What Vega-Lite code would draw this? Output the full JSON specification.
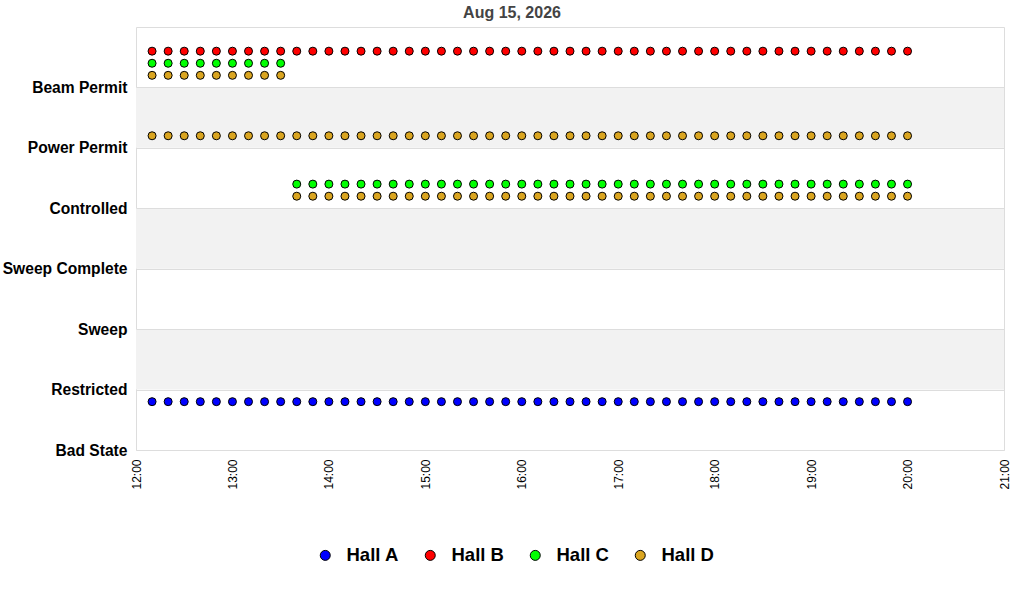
{
  "$schema": "https://vega.github.io/schema/vega-lite/v6.json",
  "width": 868,
  "height": 423,
  "autosize": "none",
  "padding": {"left": 136, "top": 27, "right": 20, "bottom": 150},
  "title": {"text": "Aug 15, 2026", "fontSize": 16, "fontWeight": "bold", "color": "#444444", "font": "Liberation Sans", "anchor": "middle", "dx": -58, "offset": 6},
  "config": {"view": {"stroke": "#dddddd"}, "font": "Liberation Sans"},
  "layer": [
    {
      "data": {"values": [{"lo": 1, "hi": 2}, {"lo": 3, "hi": 4}, {"lo": 5, "hi": 6}]},
      "mark": {"type": "rect", "color": "#f2f2f2"},
      "encoding": {
        "y": {"field": "lo", "type": "quantitative", "scale": {"domain": [0, 7], "nice": false},
          "axis": {"title": null, "values": [0, 1, 2, 3, 4, 5, 6], "labelExpr": "['Bad State','Restricted','Sweep','Sweep Complete','Controlled','Power Permit','Beam Permit'][datum.value]",
            "labelFontSize": 15.6, "labelFontWeight": "bold", "labelColor": "black", "labelPadding": 9, "ticks": false, "domain": false, "gridColor": "#dddddd", "zindex": 1}},
        "y2": {"field": "hi"}
      }
    },
    {
      "data": {"values": [
        {"t":"2026-08-15T12:10","h":"Hall A","y":0.8},{"t":"2026-08-15T12:20","h":"Hall A","y":0.8},{"t":"2026-08-15T12:30","h":"Hall A","y":0.8},{"t":"2026-08-15T12:40","h":"Hall A","y":0.8},{"t":"2026-08-15T12:50","h":"Hall A","y":0.8},{"t":"2026-08-15T13:00","h":"Hall A","y":0.8},
        {"t":"2026-08-15T13:10","h":"Hall A","y":0.8},{"t":"2026-08-15T13:20","h":"Hall A","y":0.8},{"t":"2026-08-15T13:30","h":"Hall A","y":0.8},{"t":"2026-08-15T13:40","h":"Hall A","y":0.8},{"t":"2026-08-15T13:50","h":"Hall A","y":0.8},{"t":"2026-08-15T14:00","h":"Hall A","y":0.8},
        {"t":"2026-08-15T14:10","h":"Hall A","y":0.8},{"t":"2026-08-15T14:20","h":"Hall A","y":0.8},{"t":"2026-08-15T14:30","h":"Hall A","y":0.8},{"t":"2026-08-15T14:40","h":"Hall A","y":0.8},{"t":"2026-08-15T14:50","h":"Hall A","y":0.8},{"t":"2026-08-15T15:00","h":"Hall A","y":0.8},
        {"t":"2026-08-15T15:10","h":"Hall A","y":0.8},{"t":"2026-08-15T15:20","h":"Hall A","y":0.8},{"t":"2026-08-15T15:30","h":"Hall A","y":0.8},{"t":"2026-08-15T15:40","h":"Hall A","y":0.8},{"t":"2026-08-15T15:50","h":"Hall A","y":0.8},{"t":"2026-08-15T16:00","h":"Hall A","y":0.8},
        {"t":"2026-08-15T16:10","h":"Hall A","y":0.8},{"t":"2026-08-15T16:20","h":"Hall A","y":0.8},{"t":"2026-08-15T16:30","h":"Hall A","y":0.8},{"t":"2026-08-15T16:40","h":"Hall A","y":0.8},{"t":"2026-08-15T16:50","h":"Hall A","y":0.8},{"t":"2026-08-15T17:00","h":"Hall A","y":0.8},
        {"t":"2026-08-15T17:10","h":"Hall A","y":0.8},{"t":"2026-08-15T17:20","h":"Hall A","y":0.8},{"t":"2026-08-15T17:30","h":"Hall A","y":0.8},{"t":"2026-08-15T17:40","h":"Hall A","y":0.8},{"t":"2026-08-15T17:50","h":"Hall A","y":0.8},{"t":"2026-08-15T18:00","h":"Hall A","y":0.8},
        {"t":"2026-08-15T18:10","h":"Hall A","y":0.8},{"t":"2026-08-15T18:20","h":"Hall A","y":0.8},{"t":"2026-08-15T18:30","h":"Hall A","y":0.8},{"t":"2026-08-15T18:40","h":"Hall A","y":0.8},{"t":"2026-08-15T18:50","h":"Hall A","y":0.8},{"t":"2026-08-15T19:00","h":"Hall A","y":0.8},
        {"t":"2026-08-15T19:10","h":"Hall A","y":0.8},{"t":"2026-08-15T19:20","h":"Hall A","y":0.8},{"t":"2026-08-15T19:30","h":"Hall A","y":0.8},{"t":"2026-08-15T19:40","h":"Hall A","y":0.8},{"t":"2026-08-15T19:50","h":"Hall A","y":0.8},{"t":"2026-08-15T20:00","h":"Hall A","y":0.8},

        {"t":"2026-08-15T12:10","h":"Hall B","y":6.6},{"t":"2026-08-15T12:20","h":"Hall B","y":6.6},{"t":"2026-08-15T12:30","h":"Hall B","y":6.6},{"t":"2026-08-15T12:40","h":"Hall B","y":6.6},{"t":"2026-08-15T12:50","h":"Hall B","y":6.6},{"t":"2026-08-15T13:00","h":"Hall B","y":6.6},
        {"t":"2026-08-15T13:10","h":"Hall B","y":6.6},{"t":"2026-08-15T13:20","h":"Hall B","y":6.6},{"t":"2026-08-15T13:30","h":"Hall B","y":6.6},{"t":"2026-08-15T13:40","h":"Hall B","y":6.6},{"t":"2026-08-15T13:50","h":"Hall B","y":6.6},{"t":"2026-08-15T14:00","h":"Hall B","y":6.6},
        {"t":"2026-08-15T14:10","h":"Hall B","y":6.6},{"t":"2026-08-15T14:20","h":"Hall B","y":6.6},{"t":"2026-08-15T14:30","h":"Hall B","y":6.6},{"t":"2026-08-15T14:40","h":"Hall B","y":6.6},{"t":"2026-08-15T14:50","h":"Hall B","y":6.6},{"t":"2026-08-15T15:00","h":"Hall B","y":6.6},
        {"t":"2026-08-15T15:10","h":"Hall B","y":6.6},{"t":"2026-08-15T15:20","h":"Hall B","y":6.6},{"t":"2026-08-15T15:30","h":"Hall B","y":6.6},{"t":"2026-08-15T15:40","h":"Hall B","y":6.6},{"t":"2026-08-15T15:50","h":"Hall B","y":6.6},{"t":"2026-08-15T16:00","h":"Hall B","y":6.6},
        {"t":"2026-08-15T16:10","h":"Hall B","y":6.6},{"t":"2026-08-15T16:20","h":"Hall B","y":6.6},{"t":"2026-08-15T16:30","h":"Hall B","y":6.6},{"t":"2026-08-15T16:40","h":"Hall B","y":6.6},{"t":"2026-08-15T16:50","h":"Hall B","y":6.6},{"t":"2026-08-15T17:00","h":"Hall B","y":6.6},
        {"t":"2026-08-15T17:10","h":"Hall B","y":6.6},{"t":"2026-08-15T17:20","h":"Hall B","y":6.6},{"t":"2026-08-15T17:30","h":"Hall B","y":6.6},{"t":"2026-08-15T17:40","h":"Hall B","y":6.6},{"t":"2026-08-15T17:50","h":"Hall B","y":6.6},{"t":"2026-08-15T18:00","h":"Hall B","y":6.6},
        {"t":"2026-08-15T18:10","h":"Hall B","y":6.6},{"t":"2026-08-15T18:20","h":"Hall B","y":6.6},{"t":"2026-08-15T18:30","h":"Hall B","y":6.6},{"t":"2026-08-15T18:40","h":"Hall B","y":6.6},{"t":"2026-08-15T18:50","h":"Hall B","y":6.6},{"t":"2026-08-15T19:00","h":"Hall B","y":6.6},
        {"t":"2026-08-15T19:10","h":"Hall B","y":6.6},{"t":"2026-08-15T19:20","h":"Hall B","y":6.6},{"t":"2026-08-15T19:30","h":"Hall B","y":6.6},{"t":"2026-08-15T19:40","h":"Hall B","y":6.6},{"t":"2026-08-15T19:50","h":"Hall B","y":6.6},{"t":"2026-08-15T20:00","h":"Hall B","y":6.6},

        {"t":"2026-08-15T12:10","h":"Hall C","y":6.4},{"t":"2026-08-15T12:20","h":"Hall C","y":6.4},{"t":"2026-08-15T12:30","h":"Hall C","y":6.4},{"t":"2026-08-15T12:40","h":"Hall C","y":6.4},{"t":"2026-08-15T12:50","h":"Hall C","y":6.4},{"t":"2026-08-15T13:00","h":"Hall C","y":6.4},
        {"t":"2026-08-15T13:10","h":"Hall C","y":6.4},{"t":"2026-08-15T13:20","h":"Hall C","y":6.4},{"t":"2026-08-15T13:30","h":"Hall C","y":6.4},{"t":"2026-08-15T13:40","h":"Hall C","y":4.4},{"t":"2026-08-15T13:50","h":"Hall C","y":4.4},{"t":"2026-08-15T14:00","h":"Hall C","y":4.4},
        {"t":"2026-08-15T14:10","h":"Hall C","y":4.4},{"t":"2026-08-15T14:20","h":"Hall C","y":4.4},{"t":"2026-08-15T14:30","h":"Hall C","y":4.4},{"t":"2026-08-15T14:40","h":"Hall C","y":4.4},{"t":"2026-08-15T14:50","h":"Hall C","y":4.4},{"t":"2026-08-15T15:00","h":"Hall C","y":4.4},
        {"t":"2026-08-15T15:10","h":"Hall C","y":4.4},{"t":"2026-08-15T15:20","h":"Hall C","y":4.4},{"t":"2026-08-15T15:30","h":"Hall C","y":4.4},{"t":"2026-08-15T15:40","h":"Hall C","y":4.4},{"t":"2026-08-15T15:50","h":"Hall C","y":4.4},{"t":"2026-08-15T16:00","h":"Hall C","y":4.4},
        {"t":"2026-08-15T16:10","h":"Hall C","y":4.4},{"t":"2026-08-15T16:20","h":"Hall C","y":4.4},{"t":"2026-08-15T16:30","h":"Hall C","y":4.4},{"t":"2026-08-15T16:40","h":"Hall C","y":4.4},{"t":"2026-08-15T16:50","h":"Hall C","y":4.4},{"t":"2026-08-15T17:00","h":"Hall C","y":4.4},
        {"t":"2026-08-15T17:10","h":"Hall C","y":4.4},{"t":"2026-08-15T17:20","h":"Hall C","y":4.4},{"t":"2026-08-15T17:30","h":"Hall C","y":4.4},{"t":"2026-08-15T17:40","h":"Hall C","y":4.4},{"t":"2026-08-15T17:50","h":"Hall C","y":4.4},{"t":"2026-08-15T18:00","h":"Hall C","y":4.4},
        {"t":"2026-08-15T18:10","h":"Hall C","y":4.4},{"t":"2026-08-15T18:20","h":"Hall C","y":4.4},{"t":"2026-08-15T18:30","h":"Hall C","y":4.4},{"t":"2026-08-15T18:40","h":"Hall C","y":4.4},{"t":"2026-08-15T18:50","h":"Hall C","y":4.4},{"t":"2026-08-15T19:00","h":"Hall C","y":4.4},
        {"t":"2026-08-15T19:10","h":"Hall C","y":4.4},{"t":"2026-08-15T19:20","h":"Hall C","y":4.4},{"t":"2026-08-15T19:30","h":"Hall C","y":4.4},{"t":"2026-08-15T19:40","h":"Hall C","y":4.4},{"t":"2026-08-15T19:50","h":"Hall C","y":4.4},{"t":"2026-08-15T20:00","h":"Hall C","y":4.4},

        {"t":"2026-08-15T12:10","h":"Hall D","y":6.2},{"t":"2026-08-15T12:20","h":"Hall D","y":6.2},{"t":"2026-08-15T12:30","h":"Hall D","y":6.2},{"t":"2026-08-15T12:40","h":"Hall D","y":6.2},{"t":"2026-08-15T12:50","h":"Hall D","y":6.2},{"t":"2026-08-15T13:00","h":"Hall D","y":6.2},
        {"t":"2026-08-15T13:10","h":"Hall D","y":6.2},{"t":"2026-08-15T13:20","h":"Hall D","y":6.2},{"t":"2026-08-15T13:30","h":"Hall D","y":6.2},

        {"t":"2026-08-15T12:10","h":"Hall D","y":5.2},{"t":"2026-08-15T12:20","h":"Hall D","y":5.2},{"t":"2026-08-15T12:30","h":"Hall D","y":5.2},{"t":"2026-08-15T12:40","h":"Hall D","y":5.2},{"t":"2026-08-15T12:50","h":"Hall D","y":5.2},{"t":"2026-08-15T13:00","h":"Hall D","y":5.2},
        {"t":"2026-08-15T13:10","h":"Hall D","y":5.2},{"t":"2026-08-15T13:20","h":"Hall D","y":5.2},{"t":"2026-08-15T13:30","h":"Hall D","y":5.2},{"t":"2026-08-15T13:40","h":"Hall D","y":5.2},{"t":"2026-08-15T13:50","h":"Hall D","y":5.2},{"t":"2026-08-15T14:00","h":"Hall D","y":5.2},
        {"t":"2026-08-15T14:10","h":"Hall D","y":5.2},{"t":"2026-08-15T14:20","h":"Hall D","y":5.2},{"t":"2026-08-15T14:30","h":"Hall D","y":5.2},{"t":"2026-08-15T14:40","h":"Hall D","y":5.2},{"t":"2026-08-15T14:50","h":"Hall D","y":5.2},{"t":"2026-08-15T15:00","h":"Hall D","y":5.2},
        {"t":"2026-08-15T15:10","h":"Hall D","y":5.2},{"t":"2026-08-15T15:20","h":"Hall D","y":5.2},{"t":"2026-08-15T15:30","h":"Hall D","y":5.2},{"t":"2026-08-15T15:40","h":"Hall D","y":5.2},{"t":"2026-08-15T15:50","h":"Hall D","y":5.2},{"t":"2026-08-15T16:00","h":"Hall D","y":5.2},
        {"t":"2026-08-15T16:10","h":"Hall D","y":5.2},{"t":"2026-08-15T16:20","h":"Hall D","y":5.2},{"t":"2026-08-15T16:30","h":"Hall D","y":5.2},{"t":"2026-08-15T16:40","h":"Hall D","y":5.2},{"t":"2026-08-15T16:50","h":"Hall D","y":5.2},{"t":"2026-08-15T17:00","h":"Hall D","y":5.2},
        {"t":"2026-08-15T17:10","h":"Hall D","y":5.2},{"t":"2026-08-15T17:20","h":"Hall D","y":5.2},{"t":"2026-08-15T17:30","h":"Hall D","y":5.2},{"t":"2026-08-15T17:40","h":"Hall D","y":5.2},{"t":"2026-08-15T17:50","h":"Hall D","y":5.2},{"t":"2026-08-15T18:00","h":"Hall D","y":5.2},
        {"t":"2026-08-15T18:10","h":"Hall D","y":5.2},{"t":"2026-08-15T18:20","h":"Hall D","y":5.2},{"t":"2026-08-15T18:30","h":"Hall D","y":5.2},{"t":"2026-08-15T18:40","h":"Hall D","y":5.2},{"t":"2026-08-15T18:50","h":"Hall D","y":5.2},{"t":"2026-08-15T19:00","h":"Hall D","y":5.2},
        {"t":"2026-08-15T19:10","h":"Hall D","y":5.2},{"t":"2026-08-15T19:20","h":"Hall D","y":5.2},{"t":"2026-08-15T19:30","h":"Hall D","y":5.2},{"t":"2026-08-15T19:40","h":"Hall D","y":5.2},{"t":"2026-08-15T19:50","h":"Hall D","y":5.2},{"t":"2026-08-15T20:00","h":"Hall D","y":5.2},

        {"t":"2026-08-15T13:40","h":"Hall D","y":4.2},{"t":"2026-08-15T13:50","h":"Hall D","y":4.2},{"t":"2026-08-15T14:00","h":"Hall D","y":4.2},
        {"t":"2026-08-15T14:10","h":"Hall D","y":4.2},{"t":"2026-08-15T14:20","h":"Hall D","y":4.2},{"t":"2026-08-15T14:30","h":"Hall D","y":4.2},{"t":"2026-08-15T14:40","h":"Hall D","y":4.2},{"t":"2026-08-15T14:50","h":"Hall D","y":4.2},{"t":"2026-08-15T15:00","h":"Hall D","y":4.2},
        {"t":"2026-08-15T15:10","h":"Hall D","y":4.2},{"t":"2026-08-15T15:20","h":"Hall D","y":4.2},{"t":"2026-08-15T15:30","h":"Hall D","y":4.2},{"t":"2026-08-15T15:40","h":"Hall D","y":4.2},{"t":"2026-08-15T15:50","h":"Hall D","y":4.2},{"t":"2026-08-15T16:00","h":"Hall D","y":4.2},
        {"t":"2026-08-15T16:10","h":"Hall D","y":4.2},{"t":"2026-08-15T16:20","h":"Hall D","y":4.2},{"t":"2026-08-15T16:30","h":"Hall D","y":4.2},{"t":"2026-08-15T16:40","h":"Hall D","y":4.2},{"t":"2026-08-15T16:50","h":"Hall D","y":4.2},{"t":"2026-08-15T17:00","h":"Hall D","y":4.2},
        {"t":"2026-08-15T17:10","h":"Hall D","y":4.2},{"t":"2026-08-15T17:20","h":"Hall D","y":4.2},{"t":"2026-08-15T17:30","h":"Hall D","y":4.2},{"t":"2026-08-15T17:40","h":"Hall D","y":4.2},{"t":"2026-08-15T17:50","h":"Hall D","y":4.2},{"t":"2026-08-15T18:00","h":"Hall D","y":4.2},
        {"t":"2026-08-15T18:10","h":"Hall D","y":4.2},{"t":"2026-08-15T18:20","h":"Hall D","y":4.2},{"t":"2026-08-15T18:30","h":"Hall D","y":4.2},{"t":"2026-08-15T18:40","h":"Hall D","y":4.2},{"t":"2026-08-15T18:50","h":"Hall D","y":4.2},{"t":"2026-08-15T19:00","h":"Hall D","y":4.2},
        {"t":"2026-08-15T19:10","h":"Hall D","y":4.2},{"t":"2026-08-15T19:20","h":"Hall D","y":4.2},{"t":"2026-08-15T19:30","h":"Hall D","y":4.2},{"t":"2026-08-15T19:40","h":"Hall D","y":4.2},{"t":"2026-08-15T19:50","h":"Hall D","y":4.2},{"t":"2026-08-15T20:00","h":"Hall D","y":4.2}
      ]},
      "mark": {"type": "point", "shape": "circle", "filled": true, "size": 64, "stroke": "black", "strokeWidth": 1, "opacity": 1},
      "encoding": {
        "x": {"field": "t", "type": "temporal",
          "scale": {"domain": [{"year": 2026, "month": 8, "date": 15, "hours": 12}, {"year": 2026, "month": 8, "date": 15, "hours": 21}]},
          "axis": {"title": null, "format": "%H:%M",
            "values": [{"year": 2026, "month": 8, "date": 15, "hours": 12}, {"year": 2026, "month": 8, "date": 15, "hours": 13}, {"year": 2026, "month": 8, "date": 15, "hours": 14},
              {"year": 2026, "month": 8, "date": 15, "hours": 15}, {"year": 2026, "month": 8, "date": 15, "hours": 16}, {"year": 2026, "month": 8, "date": 15, "hours": 17},
              {"year": 2026, "month": 8, "date": 15, "hours": 18}, {"year": 2026, "month": 8, "date": 15, "hours": 19}, {"year": 2026, "month": 8, "date": 15, "hours": 20},
              {"year": 2026, "month": 8, "date": 15, "hours": 21}],
            "labelAngle": 270, "labelAlign": "right", "labelBaseline": "middle",
            "labelFontSize": 12, "labelColor": "black", "labelPadding": 9, "labelFlush": false, "ticks": false, "domain": false, "grid": false}},
        "y": {"field": "y", "type": "quantitative", "axis": {"title": null}},
        "color": {"field": "h", "type": "nominal",
          "scale": {"domain": ["Hall A", "Hall B", "Hall C", "Hall D"], "range": ["#0000ff", "#ff0000", "#00ff00", "#daa520"]},
          "legend": {"title": null, "orient": "none", "direction": "horizontal", "legendX": 180, "legendY": 519,
            "labelFontSize": 18.5, "labelFontWeight": "bold", "labelColor": "black", "labelOffset": 12, "columnPadding": 22,
            "symbolType": "circle", "symbolSize": 100, "symbolStrokeColor": "black", "symbolStrokeWidth": 1, "symbolOpacity": 1}}
      }
    }
  ]
}
